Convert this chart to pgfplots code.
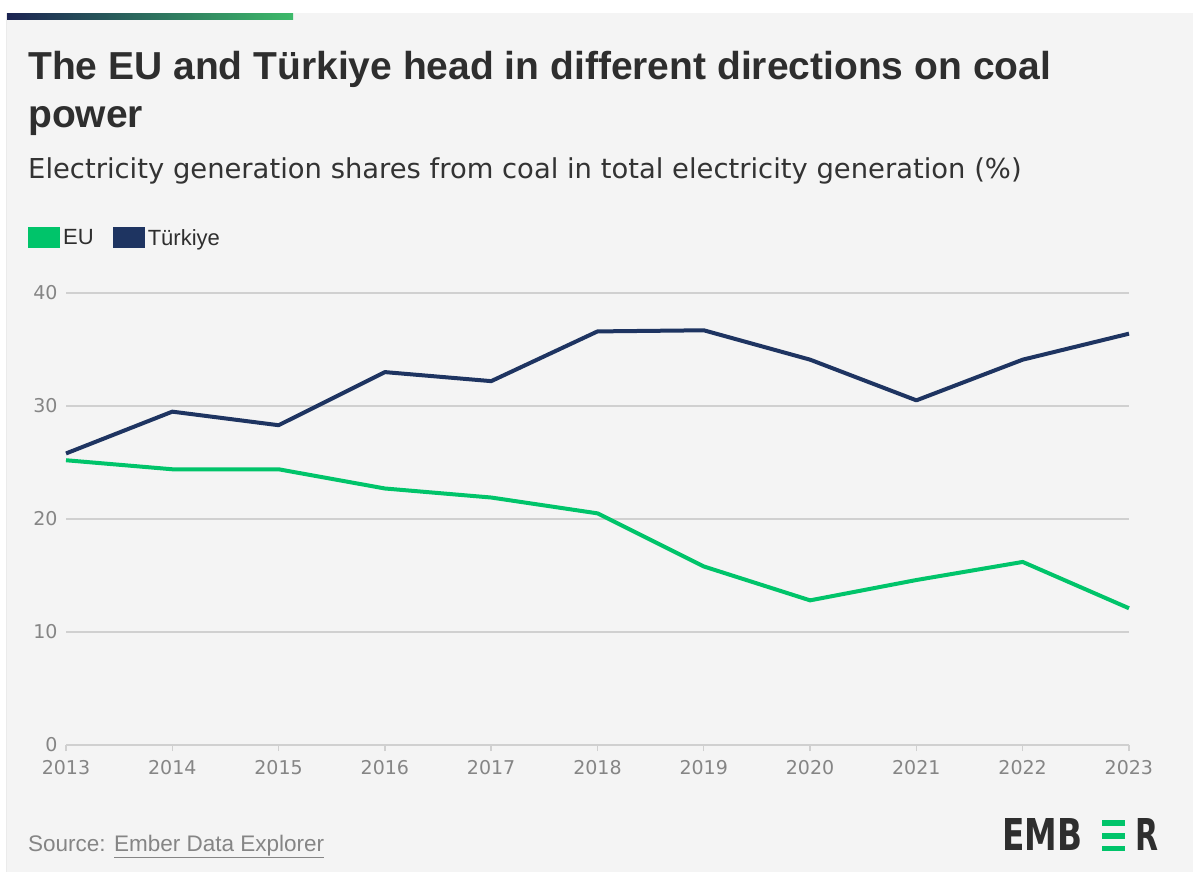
\documentclass[border=0pt]{standalone}
\usepackage{fontspec}
\setmainfont{Liberation Sans}
\newfontfamily\tickfont{DejaVu Sans}
\newfontfamily\subfont{DejaVu Sans}
\newfontfamily\logofont{DejaVu Sans}
\usepackage{pgfplots}
\pgfplotsset{compat=1.18}
\definecolor{bgcard}{HTML}{F4F4F4}
\definecolor{eugreen}{HTML}{00C46A}
\definecolor{trnavy}{HTML}{1E3461}
\definecolor{titlecol}{HTML}{2E2E2E}
\definecolor{subcol}{HTML}{333333}
\definecolor{tickcol}{HTML}{858585}
\definecolor{gridcol}{HTML}{D0D0D0}
\definecolor{barnavy}{HTML}{1C2452}
\definecolor{bargreen}{HTML}{3DBA6A}

\pgfplotstableread{
year eu tr
2013 25.2 25.8
2014 24.4 29.5
2015 24.4 28.3
2016 22.7 33.0
2017 21.9 32.2
2018 20.5 36.6
2019 15.8 36.7
2020 12.8 34.1
2021 14.6 30.5
2022 16.2 34.1
2023 12.1 36.4
}\datatable

\begin{document}
\begin{tikzpicture}[x=1pt,y=1pt]
% background
\fill[white] (0,0) rectangle (1193,872);
\fill[bgcard] (6,0) rectangle (1193,859);
\draw[black!8, line width=1pt] (6,0) -- (6,859);
\shade[left color=barnavy, right color=bargreen] (7,852) rectangle (293,858);
% title
\node[anchor=base west, inner sep=0pt, text=titlecol] at (28,792)
  {\fontsize{39}{46}\selectfont\bfseries The EU and Türkiye head in different directions on coal};
\node[anchor=base west, inner sep=0pt, text=titlecol] at (28,744)
  {\fontsize{39}{46}\selectfont\bfseries power};
\node[anchor=base west, inner sep=0pt, text=subcol] at (28,693)
  {\subfont\fontsize{27.4}{32}\selectfont Electricity generation shares from coal in total electricity generation (\%)};

\begin{axis}[
  at={(66pt,127pt)}, anchor=south west,
  scale only axis, width=1063pt, height=452pt,
  xmin=2013, xmax=2023, ymin=0, ymax=40,
  xtick={2013,2014,...,2023}, ytick={0,10,20,30,40},
  axis x line*=bottom, axis y line*=left,
  y axis line style={draw=none},
  x axis line style={draw=gridcol, line width=1.5pt},
  ymajorgrids, grid style={draw=gridcol, line width=1.2pt},
  ytick style={draw=none},
  xtick style={draw=gridcol, line width=1.5pt},
  xtick align=outside, major tick length=6pt,
  xticklabel={\tickfont\fontsize{19}{23}\selectfont\pgfmathprintnumber[1000 sep={}]{\tick}},
  yticklabel={\tickfont\fontsize{19}{23}\selectfont\pgfmathprintnumber{\tick}},
  xticklabel style={text=tickcol, yshift=-6pt},
  yticklabel style={text=tickcol, xshift=-5pt},
  /pgf/number format/assume math mode=true,
  clip=false,
  legend columns=2,
  legend style={draw=none, fill=none, at={(-0.0357,1.1217)}, anchor=west,
    inner sep=0pt, font=\fontsize{22}{26}\selectfont, text=titlecol,
    nodes={inner sep=3pt},
    /tikz/every even column/.append style={column sep=16pt}},
  legend image code/.code={\fill[#1, draw=none] (0pt,-10.5pt) rectangle (32pt,10.5pt);},
]
\addplot[eugreen, line width=4pt, line join=round] table[x=year, y=eu] {\datatable};
\addlegendentry{EU}
\addplot[trnavy, line width=4pt, line join=round] table[x=year, y=tr] {\datatable};
\addlegendentry{Türkiye}
\end{axis}

% source
\node[anchor=base west, inner sep=0pt, text=tickcol] at (28,21)
  {\fontsize{22.5}{26}\selectfont Source: \underline{Ember Data Explorer}};
% logo
\node[anchor=south west, inner sep=0pt, text=titlecol] at (1002,21)
  {\resizebox{80pt}{32pt}{\logofont\bfseries EMB}};
\fill[eugreen] (1102,46.5) rectangle (1125,52);
\fill[eugreen] (1102,33.5) rectangle (1125,39);
\fill[eugreen] (1102,21) rectangle (1125,26.5);
\node[anchor=south west, inner sep=0pt, text=titlecol] at (1135,21)
  {\resizebox{23pt}{32pt}{\logofont\bfseries R}};
\end{tikzpicture}
\end{document}
